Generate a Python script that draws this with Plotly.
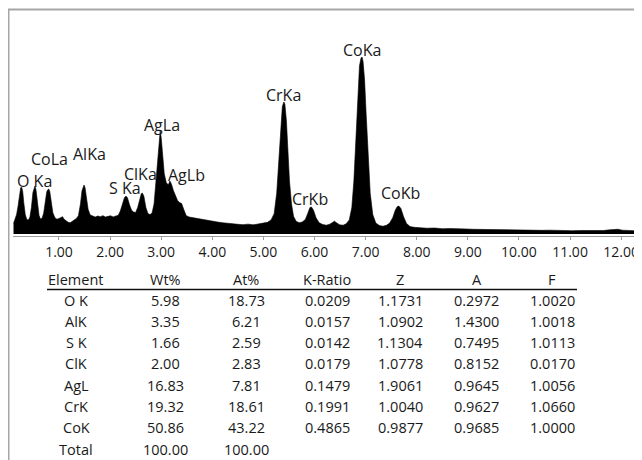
import plotly.graph_objects as go

# ---- spectrum data (energy keV, counts) ----
energy = [0.11, 0.14, 0.17, 0.20, 0.23, 0.25, 0.27, 0.29, 0.31, 0.34, 0.37, 0.40, 0.43, 0.46, 0.49,
          0.51, 0.53, 0.55, 0.58, 0.61, 0.64, 0.67, 0.70, 0.73, 0.76, 0.78, 0.80, 0.82, 0.85, 0.88,
          0.92, 0.96, 1.00, 1.04, 1.07, 1.10, 1.14, 1.18, 1.22, 1.26, 1.30, 1.34, 1.38, 1.42, 1.45,
          1.47, 1.49, 1.51, 1.54, 1.57, 1.61, 1.66, 1.71, 1.76, 1.81, 1.86, 1.91, 1.96, 2.01, 2.06,
          2.11, 2.16, 2.20, 2.24, 2.28, 2.31, 2.34, 2.38, 2.42, 2.46, 2.50, 2.54, 2.58, 2.61, 2.63,
          2.66, 2.70, 2.74, 2.78, 2.82, 2.86, 2.89, 2.92, 2.95, 2.97, 2.98, 3.00, 3.03, 3.06, 3.10,
          3.14, 3.17, 3.20, 3.24, 3.28, 3.32, 3.36, 3.40, 3.44, 3.49, 3.55, 3.62, 3.70, 3.78, 3.86,
          3.94, 4.02, 4.10, 4.20, 4.30, 4.40, 4.50, 4.60, 4.70, 4.80, 4.90, 5.00, 5.08, 5.15, 5.21,
          5.26, 5.30, 5.34, 5.37, 5.40, 5.42, 5.45, 5.48, 5.51, 5.55, 5.59, 5.64, 5.70, 5.76, 5.82,
          5.87, 5.91, 5.94, 5.98, 6.03, 6.09, 6.16, 6.23, 6.30, 6.35, 6.39, 6.43, 6.49, 6.56, 6.62,
          6.68, 6.73, 6.77, 6.81, 6.85, 6.88, 6.91, 6.93, 6.95, 6.98, 7.01, 7.05, 7.09, 7.14, 7.20,
          7.27, 7.34, 7.41, 7.47, 7.53, 7.58, 7.62, 7.65, 7.69, 7.74, 7.80, 7.87, 7.95, 8.05, 8.20,
          8.35, 8.50, 8.65, 8.80, 8.95, 9.10, 9.25, 9.40, 9.55, 9.70, 9.85, 10.00, 10.15, 10.30,
          10.45, 10.60, 10.75, 10.90, 11.05, 11.20, 11.35, 11.50, 11.65, 11.78, 11.88, 11.94, 12.02,
          12.12, 12.22, 12.33]
counts = [60, 85, 110, 160, 235, 262, 265, 240, 180, 110, 82, 80, 95, 150, 235,
          262, 271, 250, 175, 105, 84, 90, 118, 190, 238, 250, 254, 240, 185, 120,
          92, 84, 88, 95, 98, 84, 72, 66, 64, 72, 82, 88, 104, 170, 245,
          270, 277, 262, 205, 140, 108, 100, 96, 102, 98, 104, 96, 100, 103, 97,
          100, 106, 130, 175, 205, 215, 205, 165, 135, 124, 122, 150, 205, 228, 232,
          215, 150, 116, 110, 118, 170, 265, 380, 500, 565, 582, 545, 430, 340, 290,
          278, 300, 282, 245, 215, 190, 178, 172, 140, 104, 96, 92, 88, 82, 78,
          76, 70, 68, 64, 60, 57, 55, 53, 56, 52, 56, 60, 66, 80, 115,
          230, 420, 620, 720, 746, 735, 640, 470, 300, 170, 100, 72, 64, 68, 82,
          118, 150, 153, 135, 92, 64, 54, 50, 56, 66, 73, 64, 52, 50, 58,
          80, 150, 300, 560, 820, 950, 995, 1000, 975, 870, 680, 420, 230, 110, 62,
          48, 44, 50, 62, 92, 135, 155, 158, 145, 100, 60, 42, 38, 35, 33,
          34, 30, 31, 28, 29, 27, 26, 28, 24, 25, 23, 24, 22, 23,
          21, 22, 20, 21, 19, 20, 19, 21, 20, 24, 28, 27, 22,
          20, 19, 18]

# ---- peak labels ----
peak_labels = ["O Ka", "CoLa", "AlKa", "S Ka", "ClKa", "AgLa", "AgLb", "CrKa", "CrKb", "CoKa", "CoKb"]
label_x = [0.53, 0.82, 1.59, 2.29, 2.59, 3.02, 3.49, 5.40, 5.91, 6.93, 7.69]
label_y = [299, 424, 452, 260, 339, 616, 333, 785, 198, 1040, 232]

# ---- axis ticks ----
tick_vals = [1, 2, 3, 4, 5, 6, 7, 8, 9, 10, 11, 12]
tick_text = ["1.00", "2.00", "3.00", "4.00", "5.00", "6.00", "7.00", "8.00", "9.00", "10.00", "11.00", "12.00"]

# ---- quantification table ----
col_headers = ["Element", "Wt%", "At%", "K-Ratio", "Z", "A", "F"]
elements = ["O K", "AlK", "S K", "ClK", "AgL", "CrK", "CoK", "Total"]
wt_pct = ["5.98", "3.35", "1.66", "2.00", "16.83", "19.32", "50.86", "100.00"]
at_pct = ["18.73", "6.21", "2.59", "2.83", "7.81", "18.61", "43.22", "100.00"]
k_ratio = ["0.0209", "0.0157", "0.0142", "0.0179", "0.1479", "0.1991", "0.4865", ""]
z_corr = ["1.1731", "1.0902", "1.1304", "1.0778", "1.9061", "1.0040", "0.9877", ""]
a_corr = ["0.2972", "1.4300", "0.7495", "0.8152", "0.9645", "0.9627", "0.9685", ""]
f_corr = ["1.0020", "1.0018", "1.0113", "0.0170", "1.0056", "1.0660", "1.0000", ""]

FONT = "Open Sans"
TXT = "#1a1a1a"
W, H = 642, 460
OFF = 8  # page body margin in the screenshot
ML, MR, MT, MB = 5, 12, 12, 232
PW, PH = W - ML - MR, H - MT - MB


def px(xs):
    """screen x -> paper x"""
    return (xs - OFF - ML) / PW


def py(ys):
    """screen y -> paper y"""
    return (H - MB - (ys - OFF)) / PH


fig = go.Figure()
fig.add_trace(go.Scatter(x=energy, y=counts, mode="lines", fill="tozeroy",
                         fillcolor="black", line=dict(color="black", width=0.6),
                         hoverinfo="skip"))

annotations = []
for t, x, y in zip(peak_labels, label_x, label_y):
    annotations.append(dict(x=x, y=y, xref="x", yref="y", text=t, showarrow=False,
                            font=dict(family=FONT, size=16, color=TXT),
                            xanchor="center", yanchor="middle"))

col_x = [76, 165, 246, 327, 400, 477, 552]
header_y = 279
row_y0, row_dy = 300, 21.3
for cx, h in zip(col_x, col_headers):
    annotations.append(dict(x=px(cx), y=py(header_y), xref="paper", yref="paper", text=h,
                            showarrow=False, font=dict(family=FONT, size=14.5, color=TXT),
                            xanchor="center", yanchor="middle"))
columns = [elements, wt_pct, at_pct, k_ratio, z_corr, a_corr, f_corr]
for cx, col in zip(col_x, columns):
    for i, v in enumerate(col):
        if v == "":
            continue
        annotations.append(dict(x=px(cx), y=py(row_y0 + i * row_dy), xref="paper", yref="paper",
                                text=v, showarrow=False,
                                font=dict(family=FONT, size=14.5, color=TXT),
                                xanchor="center", yanchor="middle"))

shapes = [
    # table header rule
    dict(type="line", xref="paper", yref="paper", x0=px(47), x1=px(577), y0=py(289.5), y1=py(289.5),
         line=dict(color="#111", width=1.3)),
    # outer frame (top & left) at the figure edge
    dict(type="line", xref="paper", yref="paper", x0=px(8), x1=px(660), y0=py(9.5), y1=py(9.5),
         line=dict(color="#a6a6a6", width=2)),
    dict(type="line", xref="paper", yref="paper", x0=px(8.5), x1=px(8.5), y0=py(9), y1=py(470),
         line=dict(color="#a6a6a6", width=2)),
]

fig.update_layout(
    width=W, height=H,
    margin=dict(l=ML, r=MR, t=MT, b=MB, pad=0),
    paper_bgcolor="white", plot_bgcolor="white",
    showlegend=False,
    annotations=annotations,
    shapes=shapes,
    xaxis=dict(range=[0.10, 12.33], tickvals=tick_vals, ticktext=tick_text,
               showline=True, linecolor="#9a9a9a", linewidth=1,
               ticks="outside", ticklen=3, tickcolor="#9a9a9a", tickwidth=1,
               showgrid=False, zeroline=False, automargin=False,
               tickfont=dict(family=FONT, size=14, color=TXT)),
    yaxis=dict(range=[-11, 1209], visible=False, showgrid=False, zeroline=False,
               automargin=False),
)

fig.write_html("out.html")
